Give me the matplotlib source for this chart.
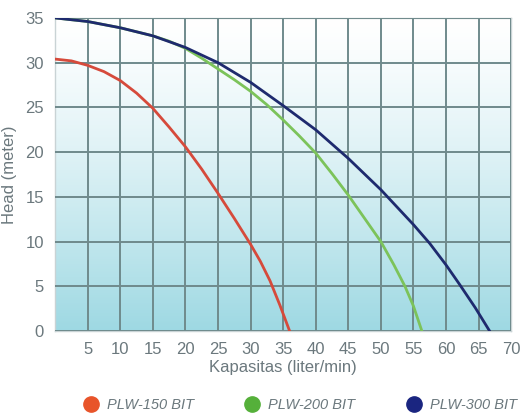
import numpy as np
import matplotlib.pyplot as plt
from matplotlib.lines import Line2D

# flow (liter/min) vs head (meter)
x_150 = [0, 2.5, 5, 7.5, 10, 12.5, 15, 17.5, 20, 22.5, 25, 27.5, 30, 31.5, 33, 34.5, 36]
h_150 = [30.4, 30.2, 29.7, 29.0, 28.0, 26.6, 24.9, 22.8, 20.6, 18.1, 15.4, 12.6, 9.7,
         7.8, 5.6, 2.9, 0]

x_200 = [0, 5, 10, 15, 17.5, 20, 22.5, 25, 27.5, 30, 32.5, 35, 37.5, 40, 42.5, 45,
         47.5, 50, 52, 53.7, 55, 56.3]
h_200 = [35, 34.6, 33.9, 33.0, 32.4, 31.6, 30.5, 29.3, 28.1, 26.8, 25.3, 23.6, 21.8,
         19.9, 17.6, 15.2, 12.6, 10.0, 7.4, 5.0, 2.8, 0]

x_300 = [0, 5, 10, 15, 20, 25, 30, 35, 40, 45, 50, 55, 57.5, 60, 62.1, 64.5, 66.7]
h_300 = [35, 34.6, 33.9, 33.0, 31.7, 30.0, 27.8, 25.2, 22.5, 19.3, 15.8, 11.9, 9.8,
         7.4, 5.2, 2.6, 0]

names = ['PLW-150 BIT', 'PLW-200 BIT', 'PLW-300 BIT']
line_colors = ['#d64a3b', '#7cc35a', '#1e2a6e']
dot_colors = ['#e8542a', '#55b03a', '#1a2580']
xticks = list(range(5, 75, 5))
yticks = list(range(0, 40, 5))

plt.rcParams['font.family'] = ['Liberation Sans', 'DejaVu Sans']
txt = '#6b787d'

fig = plt.figure(figsize=(5.2, 4.17), dpi=100)
ax = fig.add_axes([0.106, 0.206, 0.877, 0.751])

# background gradient: white at top, light cyan at bottom
grad = np.linspace(0, 1, 256).reshape(-1, 1)
top = np.array([1.0, 1.0, 1.0])
bot = np.array([0.62, 0.85, 0.89])
img = top + (bot - top) * grad[::-1] ** 1.3
ax.imshow(img[:, None, :].repeat(2, axis=1), extent=[0, 70, 0, 35],
          aspect='auto', origin='lower', zorder=0)

for xs, hs, c, z in [(x_150, h_150, line_colors[0], 3),
                     (x_200, h_200, line_colors[1], 3),
                     (x_300, h_300, line_colors[2], 4)]:
    ax.plot(xs, hs, color=c, lw=2, zorder=z, solid_joinstyle='round')

ax.set_xlim(0, 70)
ax.set_ylim(0, 35)
ax.set_xticks(xticks)
ax.set_yticks(yticks)
ax.grid(True, color='#6f8a8c', lw=1.4, zorder=1)
ax.set_axisbelow(False)
for s in ax.spines.values():
    s.set_color('#c9d3d5')
    s.set_linewidth(1)
ax.tick_params(length=0, labelsize=12, colors=txt, pad=8)
ax.set_xlabel('Kapasitas (liter/min)', fontsize=12, color=txt, labelpad=2)
ax.set_ylabel('Head (meter)', fontsize=12, color=txt, labelpad=6)

handles = [Line2D([], [], ls='none', marker='o', ms=11, color=c) for c in dot_colors]
leg = fig.legend(handles, names, loc='center', bbox_to_anchor=(0.57, 0.028),
                 ncol=3, frameon=False, columnspacing=3.0, handletextpad=0.1,
                 prop={'style': 'italic', 'size': 10.5})
for t in leg.get_texts():
    t.set_color(txt)

fig.savefig('out.png', dpi=100)
